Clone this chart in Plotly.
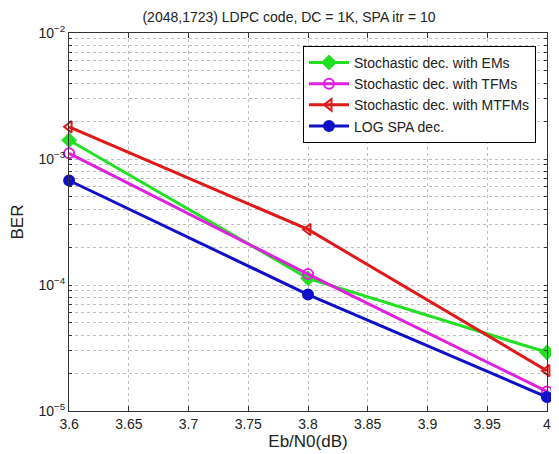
import plotly.graph_objects as go

# Eb/N0 (dB) points and BER per decoder
ebn0 = [3.6, 3.8, 4.0]
ber_em = [1.41e-3, 1.13e-4, 2.92e-5]
ber_tfm = [1.11e-3, 1.22e-4, 1.43e-5]
ber_mtfm = [1.80e-3, 2.76e-4, 2.09e-5]
ber_spa = [6.75e-4, 8.4e-5, 1.29e-5]

x_ticks = [3.6, 3.65, 3.7, 3.75, 3.8, 3.85, 3.9, 3.95, 4.0]
x_labels = ["3.6", "3.65", "3.7", "3.75", "3.8", "3.85", "3.9", "3.95", "4"]
decades = [-5, -4, -3, -2]

_FONT = "Liberation Sans, Arial, Helvetica, sans-serif"
_GRID = "#bdbdbd"

# y ticks: labels at decades, blank ones at 2..9 so the log minor grid shows
y_vals, y_text = [], []
for d in decades:
    y_vals.append(10.0 ** d)
    y_text.append(f"10<sup>\u2212{abs(d)}</sup>")
    if d < decades[-1]:
        for m in range(2, 10):
            y_vals.append(m * 10.0 ** d)
            y_text.append("")

series = [
    ("Stochastic dec. with EMs", ber_em, "#22e022", "diamond"),
    ("Stochastic dec. with TFMs", ber_tfm, "#e020e0", "circle-open"),
    ("Stochastic dec. with MTFMs", ber_mtfm, "#e01a1a", "triangle-left-open"),
    ("LOG SPA dec.", ber_spa, "#1010c8", "circle"),
]

fig = go.Figure()
for name, ber, color, symbol in series:
    fig.add_trace(go.Scatter(
        x=ebn0,
        y=ber,
        mode="lines+markers",
        name=name,
        line={"color": color, "width": 3},
        marker={"symbol": symbol, "size": 10, "color": color,
                "line": {"color": color, "width": 2}},
        cliponaxis=False,
    ))

# page body has an 8px margin, so the figure is sized to fit the window
fig.update_layout(
    width=551,
    height=446,
    paper_bgcolor="white",
    plot_bgcolor="white",
    font={"family": _FONT, "size": 14, "color": "#222"},
    margin={"l": 61, "r": 8, "t": 25, "b": 40},
    title={"text": "(2048,1723) LDPC code, DC = 1K, SPA itr = 10",
           "x": 0.51, "xanchor": "center", "y": 0.98, "yanchor": "middle",
           "font": {"size": 14}},
    showlegend=True,
    legend={"x": 0.977, "y": 0.966, "xanchor": "right", "yanchor": "top",
            "bgcolor": "white", "bordercolor": "black", "borderwidth": 1,
            "font": {"size": 14}, "tracegroupgap": 0, "itemwidth": 40},
    xaxis={
        "title": {"text": "Eb/N0(dB)", "standoff": 2},
        "range": [3.5999, 4.0001],
        "tickvals": x_ticks,
        "ticktext": x_labels,
        "tickfont": {"size": 14},
        "ticks": "inside",
        "ticklen": 5,
        "tickcolor": "#333",
        "showline": True,
        "linecolor": "#333",
        "linewidth": 1,
        "mirror": "ticks",
        "showgrid": True,
        "gridcolor": _GRID,
        "griddash": "dot",
        "zeroline": False,
    },
    yaxis={
        "title": {"text": "BER", "standoff": 10},
        "type": "log",
        "range": [-5, -2],
        "tickvals": y_vals,
        "ticktext": y_text,
        "tickfont": {"size": 14},
        "ticks": "inside",
        "ticklen": 3,
        "tickcolor": "#333",
        "showline": True,
        "linecolor": "#333",
        "linewidth": 1,
        "mirror": "ticks",
        "showgrid": True,
        "gridcolor": _GRID,
        "griddash": "dot",
        "zeroline": False,
    },
)

fig.write_html("out.html")
